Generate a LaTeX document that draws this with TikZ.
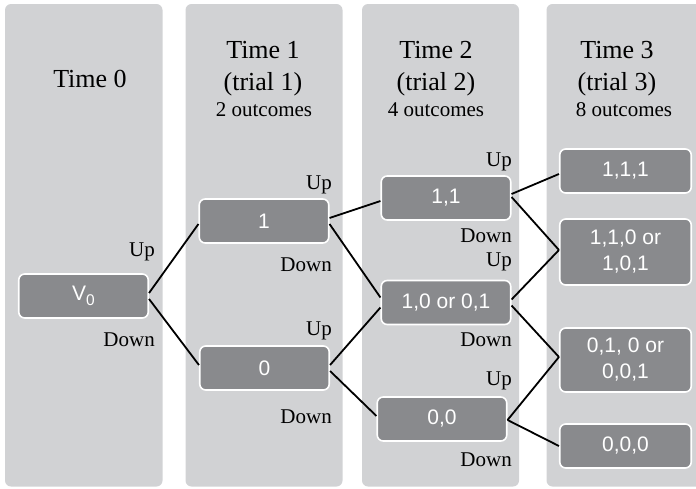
\documentclass[tikz,border=0pt]{standalone}
\usepackage{fontspec}
\setmainfont{Liberation Serif}
\newfontfamily\boxfont{Liberation Sans}
\usetikzlibrary{calc}
\definecolor{panelgrey}{HTML}{D1D2D4}
\definecolor{boxgrey}{HTML}{898A8D}
\begin{document}
\begin{tikzpicture}[x=1pt,y=-1pt,
  panel/.style={fill=panelgrey, rounded corners=6pt},
  outcome/.style={fill=boxgrey, draw=white, line width=1.6pt, rounded corners=6pt,
    minimum width=129.5pt, minimum height=44pt, inner sep=0pt, text=white,
    font=\boxfont\fontsize{21}{26}\selectfont, align=center},
  title/.style={anchor=base, inner sep=0pt, font=\fontsize{26}{30}\selectfont},
  sub/.style={anchor=base, inner sep=0pt, font=\fontsize{21}{24}\selectfont},
  lab/.style={anchor=base east, inner sep=0pt, font=\fontsize{21}{24}\selectfont},
  conn/.style={line width=1.8pt, black}]
\useasboundingbox (0,0) rectangle (696,488);
\clip (0,0) rectangle (696,488);
% panels
\fill[panel] (5,4) rectangle (162.5,486.5);
\fill[panel] (185.5,4) rectangle (342.5,486.5);
\fill[panel] (362,4) rectangle (519,486.5);
\fill[panel] (546.5,4) rectangle (704,486.5);
% titles
\node[title] (t0) at (90,87) {Time 0};
\node[title] (t1) at (263,58.3) {Time 1};
\node[title] (t1b) at (263,90) {(trial 1)};
\node[sub] (t1c) at (264,116) {2 outcomes};
\node[title] (t2) at (436,58.3) {Time 2};
\node[title] (t2b) at (436,90) {(trial 2)};
\node[sub] (t2c) at (436,116) {4 outcomes};
\node[title] (t3) at (617,58.3) {Time 3};
\node[title] (t3b) at (617,90) {(trial 3)};
\node[sub] (t3c) at (624,116) {8 outcomes};
% boxes
\node[outcome] (v0) at (83.5,296) {V\raisebox{-5pt}{\fontsize{15.5}{15.5}\selectfont 0}};
\node[outcome] (n1) at (264,221) {1};
\node[outcome] (n0) at (264.5,368) {0};
\node[outcome] (n11) at (446,198) {1,1};
\node[outcome] (n10) at (446,302.5) {1,0 or 0,1};
\node[outcome] (n00) at (442,419) {0,0};
\node[outcome, minimum width=131.5pt] (n111) at (625.5,171) {1,1,1};
\node[outcome, minimum width=131.5pt, minimum height=66pt] (n110) at (625.5,252) {1,1,0 or\\1,0,1};
\node[outcome, minimum width=131.5pt, minimum height=64pt] (n010) at (625.5,360) {0,1, 0 or\\0,0,1};
\node[outcome, minimum width=131.5pt] (n000) at (625.5,446) {0,0,0};
% connectors
\draw[conn] ($(v0.east)+(0,-3)$) -- ($(n1.west)+(0,3)$);
\draw[conn] ($(v0.east)+(0,3)$) -- ($(n0.west)+(0,-3)$);
\draw[conn] ($(n1.east)+(0,-3)$) -- ($(n11.west)+(0,3)$);
\draw[conn] ($(n1.east)+(0,3)$) -- ($(n10.west)+(0,-5)$);
\draw[conn] ($(n0.east)+(0,-3)$) -- ($(n10.west)+(0,5)$);
\draw[conn] ($(n0.east)+(0,3)$) -- ($(n00.west)+(0,-3)$);
\draw[conn] ($(n11.east)+(0,-4)$) -- ($(n111.west)+(0,3)$);
\draw[conn] ($(n11.east)+(0,-1)$) -- ($(n110.west)+(0,-2)$);
\draw[conn] ($(n10.east)+(0,-3)$) -- ($(n110.west)+(0,-2)$);
\draw[conn] ($(n10.east)+(0,3)$) -- ($(n010.west)+(0,-3)$);
\draw[conn] ($(n00.east)+(0,1)$) -- ($(n010.west)+(0,-3)$);
\draw[conn] ($(n00.east)+(0,1)$) -- ($(n000.west)+(0,0)$);
% labels
\node[lab] (u0) at (155,256) {Up};
\node[lab] (d0) at (155,346) {Down};
\node[lab] (u1a) at (332,189) {Up};
\node[lab] (d1a) at (332,271.5) {Down};
\node[lab] (u1b) at (332,335) {Up};
\node[lab] (d1b) at (332,423) {Down};
\node[lab] (u2a) at (512,166.5) {Up};
\node[lab] (d2a) at (512,242.5) {Down};
\node[lab] (u2b) at (512,266.5) {Up};
\node[lab] (d2b) at (512,346.5) {Down};
\node[lab] (u2c) at (512,385.5) {Up};
\node[lab] (d2c) at (512,466.5) {Down};
\end{tikzpicture}
\end{document}
